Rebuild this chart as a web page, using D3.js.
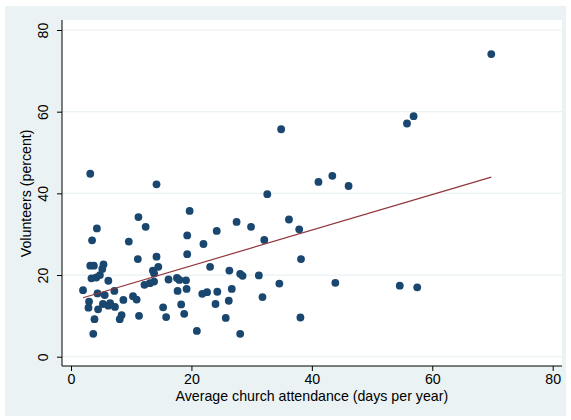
<!DOCTYPE html>
<html>
<head>
<meta charset="utf-8">
<script src="https://cdn.jsdelivr.net/npm/d3@7"></script>
<style>
  html, body { margin: 0; padding: 0; background: #ffffff; }
  svg { display: block; }
  text { font-family: "Liberation Sans", Arial, sans-serif; fill: #000; }
</style>
</head>
<body>
<svg id="chart" width="571" height="420"></svg>
<script>
// ---- data ----
const attendance = [
  2.0, 2.9, 3.0, 3.2, 3.2, 3.8, 3.4, 4.2, 3.5, 4.3,
  3.7, 3.9, 4.5, 4.4, 4.8, 5.2, 5.4, 5.6, 5.3, 6.2,
  6.2, 6.5, 7.2, 7.3, 8.7, 8.4, 8.1, 9.6, 10.3, 10.9,
  11.2, 11.1, 11.3, 12.4, 12.2, 13.1, 13.8, 13.6, 13.8, 14.2,
  14.2, 14.5, 15.3, 15.8, 16.2, 17.6, 18.0, 17.7, 18.3, 18.8,
  19.1, 19.2, 19.3, 19.3, 19.7, 20.9, 21.8, 22.6, 22.0, 23.1,
  24.2, 24.3, 24.0, 25.7, 26.2, 26.3, 26.7, 27.5, 28.1, 28.5,
  28.1, 29.9, 31.2, 31.8, 32.1, 32.6, 34.6, 34.9, 36.2, 37.9,
  38.2, 38.1, 41.1, 43.4, 46.1, 43.9, 54.6, 57.5, 55.8, 56.9,
  69.8
];
const volunteers = [
  16.3, 12.0, 13.5, 44.8, 22.3, 22.3, 19.2, 19.4, 28.5, 31.4,
  5.6, 9.2, 11.6, 15.5, 20.0, 21.5, 22.6, 15.1, 12.9, 18.6,
  12.5, 13.1, 16.1, 12.2, 13.9, 10.2, 9.2, 28.2, 14.8, 14.0,
  34.2, 23.9, 10.0, 31.8, 17.6, 18.0, 18.4, 21.1, 20.4, 42.2,
  24.5, 22.0, 12.1, 9.7, 18.9, 19.3, 18.8, 16.1, 12.8, 10.5,
  18.7, 16.6, 25.1, 29.7, 35.7, 6.3, 15.4, 15.8, 27.6, 22.0,
  30.8, 15.9, 12.9, 9.5, 13.7, 21.1, 16.6, 33.0, 20.3, 19.8,
  5.6, 31.8, 19.9, 14.6, 28.6, 39.8, 17.9, 55.7, 33.6, 31.2,
  23.9, 9.6, 42.8, 44.3, 41.8, 18.1, 17.4, 17.0, 57.1, 58.9,
  74.1
];
const xTicks = [0, 20, 40, 60, 80];
const yTicks = [0, 20, 40, 60, 80];
const xTitle = "Average church attendance (days per year)";
const yTitle = "Volunteers (percent)";

// ---- layout ----
const svg = d3.select("#chart");
const FS = 14.2;
const plot = { left: 62, right: 562, top: 20, bottom: 366 };

const x = d3.scaleLinear().domain([0, 80]).range([71, 552.7]);
const y = d3.scaleLinear().domain([0, 80]).range([356.7, 30]);

// outer background
svg.append("rect").attr("x", 5).attr("y", 6).attr("width", 561).attr("height", 410)
  .attr("fill", "#eaf2f3");
// plot region
svg.append("rect").attr("x", plot.left).attr("y", plot.top)
  .attr("width", plot.right - plot.left).attr("height", plot.bottom - plot.top)
  .attr("fill", "#ffffff");

// gridlines
svg.append("g").selectAll("line").data(yTicks).join("line")
  .attr("x1", plot.left).attr("x2", plot.right)
  .attr("y1", d => y(d)).attr("y2", d => y(d))
  .attr("stroke", "#eaf2f3").attr("stroke-width", 1.2);

// fitted line (least squares computed from the data)
const n = attendance.length;
const mx = d3.mean(attendance), my = d3.mean(volunteers);
let sxy = 0, sxx = 0;
for (let i = 0; i < n; i++) {
  sxy += (attendance[i] - mx) * (volunteers[i] - my);
  sxx += (attendance[i] - mx) ** 2;
}
const slope = sxy / sxx, intercept = my - slope * mx;
const [xmin, xmax] = d3.extent(attendance);

// points
svg.append("g").selectAll("circle").data(d3.range(n)).join("circle")
  .attr("cx", i => x(attendance[i]))
  .attr("cy", i => y(volunteers[i]))
  .attr("r", 3.9)
  .attr("fill", "#1a476f");

svg.append("line")
  .attr("x1", x(xmin)).attr("y1", y(intercept + slope * xmin))
  .attr("x2", x(xmax)).attr("y2", y(intercept + slope * xmax))
  .attr("stroke", "#90353b").attr("stroke-width", 1.2);

// axes
const xAxis = d3.axisBottom(x).tickValues(xTicks).tickSize(5).tickPadding(3);
const gx = svg.append("g").attr("transform", `translate(0,${plot.bottom})`).call(xAxis);
gx.select(".domain").remove();
gx.selectAll("line").attr("stroke", "#000");
gx.selectAll("text").attr("font-size", FS).attr("fill", "#000")
  .style("font-family", '"Liberation Sans", Arial, sans-serif');
svg.append("line").attr("x1", plot.left).attr("x2", plot.right)
  .attr("y1", plot.bottom).attr("y2", plot.bottom).attr("stroke", "#000").attr("stroke-width", 1);

const yAxis = d3.axisLeft(y).tickValues(yTicks).tickSize(5).tickFormat(d => d);
const gy = svg.append("g").attr("transform", `translate(${plot.left},0)`).call(yAxis);
gy.select(".domain").remove();
gy.selectAll("line").attr("stroke", "#000");
gy.selectAll("text").remove();
gy.selectAll(".tick").append("text")
  .attr("transform", "translate(-13.7,0) rotate(-90)")
  .attr("text-anchor", "middle")
  .attr("font-size", FS)
  .text(d => d);
svg.append("line").attr("x1", plot.left).attr("x2", plot.left)
  .attr("y1", plot.top).attr("y2", plot.bottom).attr("stroke", "#000").attr("stroke-width", 1);

// axis titles
svg.append("text").attr("x", x(40)).attr("y", 401)
  .attr("text-anchor", "middle").attr("font-size", FS).text(xTitle);
svg.append("text").attr("transform", `translate(30.5,${y(40)}) rotate(-90)`)
  .attr("text-anchor", "middle").attr("font-size", FS).text(yTitle);
</script>
</body>
</html>
